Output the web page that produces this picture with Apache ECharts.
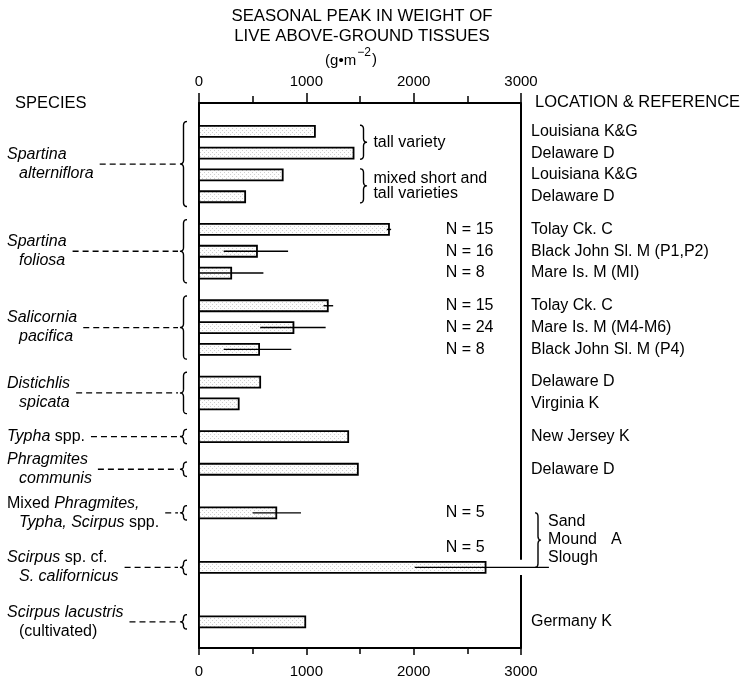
<!DOCTYPE html>
<html><head><meta charset="utf-8">
<script src="https://cdn.jsdelivr.net/npm/echarts@6/dist/echarts.min.js"></script>
<style>html,body{margin:0;padding:0;background:#fff}#c{width:743px;height:681px}</style>
</head><body><div id="c"></div>
<script>
// ================= DATA =================
const speciesLine1 = ['{i|Spartina}', '{i|Spartina}', '{i|Salicornia}', '{i|Distichlis}', '{i|Typha} spp.', '{i|Phragmites}', 'Mixed {i|Phragmites,}', '{i|Scirpus} sp. cf.', '{i|Scirpus lacustris}'];
const speciesLine2 = ['{i|alterniflora}', '{i|foliosa}', '{i|pacifica}', '{i|spicata}', '', '{i|communis}', '{i|Typha, Scirpus} spp.', '{i|S. californicus}', '(cultivated)'];
const rowsPerSpecies = [4, 3, 3, 2, 1, 1, 1, 1, 1];
const locations = ['Louisiana K&G', 'Delaware D', 'Louisiana K&G', 'Delaware D',
  'Tolay Ck. C', 'Black John Sl. M (P1,P2)', 'Mare Is. M (MI)',
  'Tolay Ck. C', 'Mare Is. M (M4-M6)', 'Black John Sl. M (P4)',
  'Delaware D', 'Virginia K', 'New Jersey K', 'Delaware D', '', '', 'Germany K'];
const peakWeight = [1080, 1440, 780, 430, 1770, 540, 300, 1200, 880, 560, 570, 370, 1390, 1480, 720, 2670, 990];
const errLow  = [null, null, null, null, 1750, 230, 0, 1160, 570, 230, null, null, null, null, 500, 2010, null];
const errHigh = [null, null, null, null, 1790, 830, 600, 1250, 1180, 860, null, null, null, null, 950, 3260, null];
const sampleN = [null, null, null, null, 15, 16, 8, 15, 24, 8, null, null, null, null, 5, 5, null];
const xTickValues = [0, 1000, 2000, 3000];
const varietyNoteRows = [[0, 1], [2, 3]];
const varietyNoteText = [['tall variety'], ['mixed short and', 'tall varieties']];
const sandMoundRows = [14, 15];
const sandMoundText = ['Sand', 'Mound', 'Slough'];
const sandMoundRef = 'A';
const titleLines = ['SEASONAL PEAK IN WEIGHT OF', 'LIVE ABOVE-GROUND TISSUES'];
const unitText = ['(g\u2022m', '\u22122', ')'];
const leftHeader = 'SPECIES';
const rightHeader = 'LOCATION & REFERENCE';

// ================= LAYOUT =================
const FONT = 'Liberation Sans';
const FS = 16;
const LAYOUT = { firstRow: 1.3, groupGaps: [1.5, 1.5, 1.5, 1.5, 1.5, 2, 2.5, 2.5], yMax: 25,
  barH: 11, noteBraceX: 1500, noteTextX: 1625, nLabelX: 2300, nShift: { 15: -0.9 }, frameGapRow: 15, frameGap: 0.35 };

const rowPos = []; const groupFirst = []; const groupLast = [];
(function () {
  let p = LAYOUT.firstRow;
  rowsPerSpecies.forEach(function (n, g) {
    if (g > 0) p = rowPos[rowPos.length - 1] + LAYOUT.groupGaps[g - 1];
    groupFirst.push(p);
    for (let k = 0; k < n; k++) { rowPos.push(p); if (k < n - 1) p += 1; }
    groupLast.push(p);
  });
})();

const mctx = document.createElement('canvas').getContext('2d');
function richWidth(str, size) {
  let w = 0; const re = /\{i\|([^}]*)\}|([^{]+)/g; let m;
  while ((m = re.exec(str))) {
    if (m[1] !== undefined) { mctx.font = 'italic ' + size + 'px "' + FONT + '"'; w += mctx.measureText(m[1]).width; }
    else { mctx.font = size + 'px "' + FONT + '"'; w += mctx.measureText(m[2]).width; }
  }
  return w;
}
function bracePts(xTip, xEnd, y0, y1) {
  const xm = (xTip + xEnd) / 2, ym = (y0 + y1) / 2, r = Math.min(4, (y1 - y0) / 4);
  const pts = [];
  function quad(a, c, b) { for (let t = 0; t <= 1.0001; t += 0.125) { const u = 1 - t; pts.push([u*u*a[0] + 2*u*t*c[0] + t*t*b[0], u*u*a[1] + 2*u*t*c[1] + t*t*b[1]]); } }
  quad([xEnd, y0], [xm, y0], [xm, y0 + r]);
  quad([xm, ym - r], [xm, ym], [xTip, ym]);
  quad([xTip, ym], [xm, ym], [xm, ym + r]);
  quad([xm, y1 - r], [xm, y1], [xEnd, y1]);
  return pts;
}
function stipple() {
  const c = document.createElement('canvas'); c.width = 4; c.height = 4;
  const g = c.getContext('2d'); g.fillStyle = '#fdfdfd'; g.fillRect(0, 0, 4, 4);
  g.fillStyle = '#cdcdcd'; g.fillRect(0, 0, 1, 1); g.fillRect(2, 2, 1, 1);
  return c;
}
const barFill = { image: stipple(), repeat: 'repeat' };
const txt = (text, x, y, extra) => Object.assign({ type: 'text', style: Object.assign({ text: text, x: x, y: y, fill: '#000', fontSize: FS, fontFamily: FONT, verticalAlign: 'middle', align: 'left' }, extra || {}) });
const richI = { i: { fontStyle: 'italic', fontSize: FS, fontFamily: FONT, fill: '#000' } };
const stroke = (w) => ({ stroke: '#000', lineWidth: w, fill: null });

const chart = echarts.init(document.getElementById('c'), null, { renderer: 'canvas' });

const xCommon = { type: 'value', min: 0, max: 3000, interval: 1000, splitLine: { show: false },
  axisLine: { onZero: false, lineStyle: { color: '#000', width: 2 } },
  axisLabel: { color: '#000', fontSize: 15, fontFamily: FONT, formatter: v => xTickValues.indexOf(v) >= 0 ? String(v) : '' } };

chart.setOption({
  animation: false,
  backgroundColor: '#fff',
  grid: { left: 199, right: 222, top: 103, bottom: 33 },
  xAxis: [
    Object.assign({}, xCommon, { position: 'top',
      axisTick: { length: 10, lineStyle: { color: '#000', width: 1.5 } },
      minorTick: { show: true, splitNumber: 2, length: 7, lineStyle: { color: '#000', width: 1.5 } },
      axisLabel: Object.assign({}, xCommon.axisLabel, { margin: 14 }) }),
    Object.assign({}, xCommon, { position: 'bottom',
      axisTick: { length: 7, lineStyle: { color: '#000', width: 1.5 } },
      minorTick: { show: true, splitNumber: 2, length: 6, lineStyle: { color: '#000', width: 1.5 } },
      axisLabel: Object.assign({}, xCommon.axisLabel, { margin: 16 }) })
  ],
  yAxis: [
    { type: 'value', min: 0, max: LAYOUT.yMax, inverse: true, position: 'left',
      axisLine: { show: true, onZero: false, lineStyle: { color: '#000', width: 2 } },
      axisTick: { show: false }, axisLabel: { show: false }, splitLine: { show: false } }
  ],
  graphic: [
    txt(titleLines[0], 362, 16, { align: 'center', fontSize: 16.8 }),
    txt(titleLines[1], 362, 36, { align: 'center', fontSize: 16.8 }),
    (function () {
      mctx.font = '15px "' + FONT + '"'; const w0 = mctx.measureText(unitText[0]).width;
      mctx.font = '12px "' + FONT + '"'; const w1 = mctx.measureText(unitText[1]).width;
      mctx.font = '15px "' + FONT + '"'; const w2 = mctx.measureText(unitText[2]).width;
      const x0 = 350 - (w0 + w1 + w2) / 2;
      return { type: 'group', children: [
        txt(unitText[0], x0, 61, { fontSize: 15 }),
        txt(unitText[1], x0 + w0 + 1, 53, { fontSize: 12 }),
        txt(unitText[2], x0 + w0 + w1 + 2, 60, { fontSize: 15 })
      ] };
    })(),
    txt(leftHeader, 15, 103, { fontSize: 16.5 }),
    txt(rightHeader, 535, 102, { fontSize: 16.5 })
  ],
  series: [
    { // right frame line, interrupted where the Slough error bar crosses it
      type: 'custom', xAxisIndex: 0, yAxisIndex: 0, clip: false,
      data: [[3000, 0]], encode: { x: 0, y: 1 },
      renderItem: function (params, api) {
        const top = api.coord([3000, 0]), bot = api.coord([3000, LAYOUT.yMax]);
        const g0 = api.coord([3000, rowPos[LAYOUT.frameGapRow] - LAYOUT.frameGap]);
        const g1 = api.coord([3000, rowPos[LAYOUT.frameGapRow] + LAYOUT.frameGap]);
        return { type: 'group', children: [
          { type: 'line', shape: { x1: top[0], y1: top[1], x2: g0[0], y2: g0[1] }, style: stroke(2) },
          { type: 'line', shape: { x1: g1[0], y1: g1[1], x2: bot[0], y2: bot[1] }, style: stroke(2) }
        ] };
      }
    },
    { // bars + error bars
      type: 'custom', xAxisIndex: 0, yAxisIndex: 0, clip: false,
      data: peakWeight.map((v, i) => [v, rowPos[i]]),
      encode: { x: 0, y: 1 },
      renderItem: function (params, api) {
        const i = params.dataIndex, v = api.value(0), y = api.value(1);
        const p0 = api.coord([0, y]), p1 = api.coord([v, y]), h = LAYOUT.barH;
        const ch = [{ type: 'rect', shape: { x: p0[0], y: p0[1] - h / 2, width: p1[0] - p0[0], height: h },
          style: { fill: barFill, stroke: '#000', lineWidth: 1.8 } }];
        if (errHigh[i] != null) {
          const a = api.coord([errLow[i], y]), b = api.coord([errHigh[i], y]);
          ch.push({ type: 'line', shape: { x1: a[0], y1: a[1], x2: b[0], y2: b[1] }, style: stroke(1.4) });
        }
        return { type: 'group', children: ch };
      }
    },
    { // location labels on the right
      type: 'custom', xAxisIndex: 0, yAxisIndex: 0, clip: false,
      data: rowPos.map((y, i) => [3000, y]),
      encode: { x: 0, y: 1 },
      renderItem: function (params, api) {
        const p = api.coord([api.value(0), api.value(1)]);
        return txt(locations[params.dataIndex], p[0] + 10, p[1]);
      }
    },
    { // N labels
      type: 'custom', xAxisIndex: 0, yAxisIndex: 0, clip: false,
      data: rowPos.map((y, i) => [LAYOUT.nLabelX, y + (LAYOUT.nShift[i] || 0)]),
      encode: { x: 0, y: 1 },
      renderItem: function (params, api) {
        const n = sampleN[params.dataIndex];
        if (n == null) return null;
        const p = api.coord([api.value(0), api.value(1)]);
        return txt('N = ' + n, p[0], p[1]);
      }
    },
    { // species labels, dashed leaders and braces on the left
      type: 'custom', xAxisIndex: 0, yAxisIndex: 0, clip: false,
      data: groupFirst.map((f, g) => [0, (f + groupLast[g]) / 2]),
      encode: { x: 0, y: 1 },
      renderItem: function (params, api) {
        const g = params.dataIndex;
        const pm = api.coord([0, api.value(1)]);
        const single = groupFirst[g] === groupLast[g];
        const yTop = api.coord([0, groupFirst[g] - (single ? 0.33 : 0.45)])[1];
        const yBot = api.coord([0, groupLast[g] + (single ? 0.33 : 0.45)])[1];
        const xTip = pm[0] - 19, xEnd = pm[0] - 12;
        const ch = [];
        ch.push({ type: 'polyline', shape: { points: bracePts(xTip, xEnd, yTop, yBot) }, style: stroke(1.4) });
        let wMax;
        if (speciesLine2[g]) {
          ch.push(txt(speciesLine1[g], 7, pm[1] - 9.5, { rich: richI }));
          ch.push(txt(speciesLine2[g], 19, pm[1] + 9.5, { rich: richI }));
          wMax = Math.max(7 + richWidth(speciesLine1[g], FS), 19 + richWidth(speciesLine2[g], FS));
        } else {
          ch.push(txt(speciesLine1[g], 7, pm[1], { rich: richI }));
          wMax = 7 + richWidth(speciesLine1[g], FS);
        }
        ch.push({ type: 'line', shape: { x1: wMax + 6, y1: pm[1], x2: xTip - 2, y2: pm[1] },
          style: { stroke: '#000', lineWidth: 1.3, lineDash: [6, 4] } });
        return { type: 'group', children: ch };
      }
    },
    { // variety notes in the middle
      type: 'custom', xAxisIndex: 0, yAxisIndex: 0, clip: false,
      data: varietyNoteRows.map(r => [LAYOUT.noteBraceX, (rowPos[r[0]] + rowPos[r[r.length - 1]]) / 2]),
      encode: { x: 0, y: 1 },
      renderItem: function (params, api) {
        const k = params.dataIndex, r = varietyNoteRows[k];
        const pm = api.coord([api.value(0), api.value(1)]);
        const y0 = api.coord([0, rowPos[r[0]] - 0.28])[1], y1 = api.coord([0, rowPos[r[r.length - 1]] + 0.28])[1];
        const xt = api.coord([LAYOUT.noteTextX, 0])[0];
        const ch = [{ type: 'polyline', shape: { points: bracePts(pm[0] + 7, pm[0], y0, y1) }, style: stroke(1.4) }];
        const lines = varietyNoteText[k];
        lines.forEach((s, j) => ch.push(txt(s, xt, pm[1] + (j - (lines.length - 1) / 2) * 15)));
        return { type: 'group', children: ch };
      }
    },
    { // Sand Mound Slough note on the right
      type: 'custom', xAxisIndex: 0, yAxisIndex: 0, clip: false,
      data: [[3000, (rowPos[sandMoundRows[0]] + rowPos[sandMoundRows[1]]) / 2]],
      encode: { x: 0, y: 1 },
      renderItem: function (params, api) {
        const pm = api.coord([api.value(0), api.value(1)]);
        const y0 = api.coord([0, rowPos[sandMoundRows[0]]])[1], y1 = api.coord([0, rowPos[sandMoundRows[1]]])[1];
        const ch = [{ type: 'polyline', shape: { points: bracePts(pm[0] + 20, pm[0] + 14, y0, y1) }, style: stroke(1.4) }];
        sandMoundText.forEach((s, j) => ch.push(txt(s, pm[0] + 27, pm[1] + (j - 1) * 18)));
        ch.push(txt(sandMoundRef, pm[0] + 90, pm[1]));
        return { type: 'group', children: ch };
      }
    }
  ]
});
</script></body></html>
